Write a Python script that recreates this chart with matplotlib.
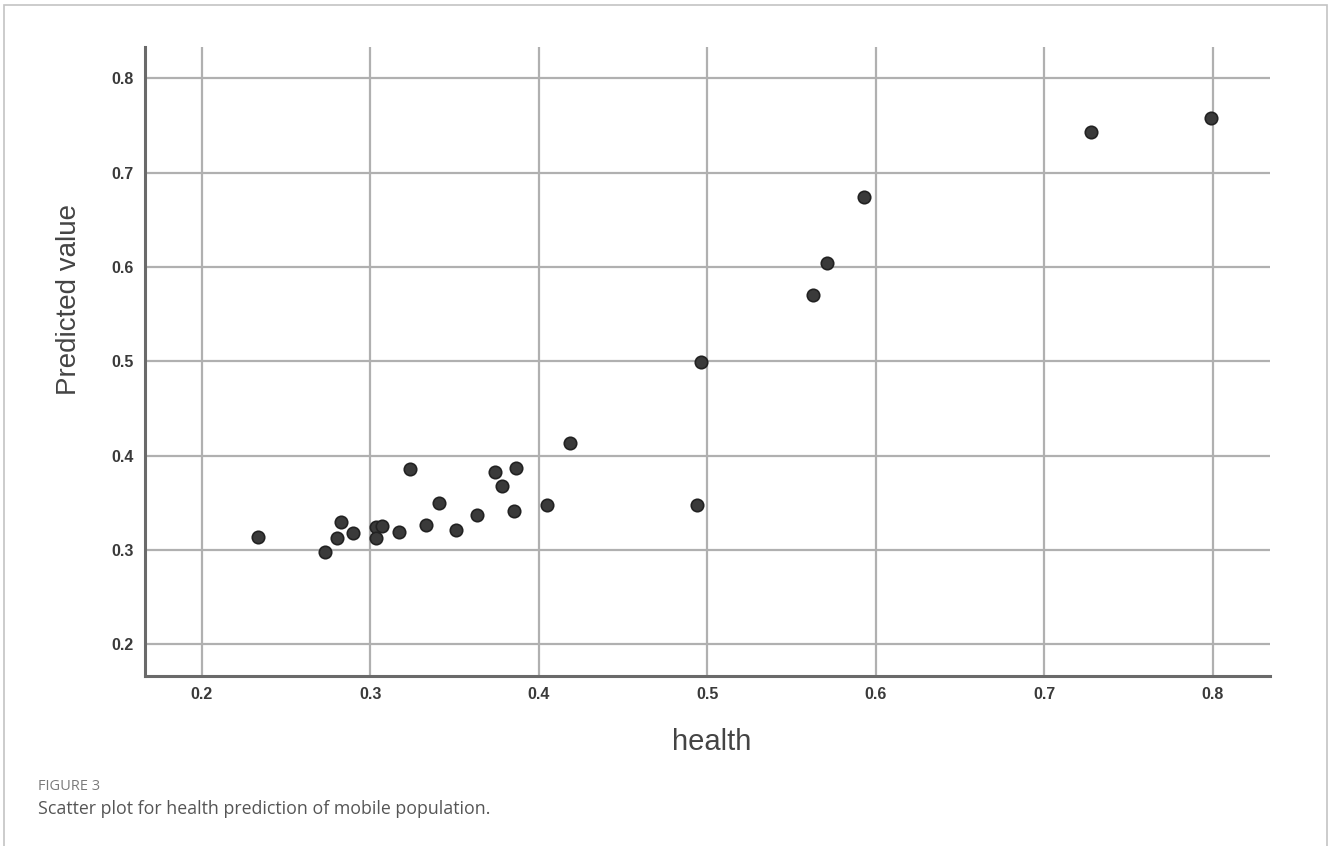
import matplotlib.pyplot as plt
from matplotlib.patches import Rectangle

# Scatter data
health = [0.2336, 0.2732, 0.2825, 0.2805, 0.2900, 0.3034, 0.3072, 0.3033,
          0.3171, 0.3236, 0.3329, 0.3410, 0.3509, 0.3632, 0.3741, 0.3865,
          0.3784, 0.3852, 0.4051, 0.4186, 0.4963, 0.4939, 0.5628, 0.5711,
          0.5930, 0.7278, 0.7990]
predicted = [0.3142, 0.2983, 0.3294, 0.3125, 0.3178, 0.3241, 0.3255, 0.3125,
             0.3191, 0.3856, 0.3266, 0.3496, 0.3209, 0.3368, 0.3827, 0.3873,
             0.3679, 0.3417, 0.3481, 0.4135, 0.4990, 0.3478, 0.5703, 0.6040,
             0.6740, 0.7430, 0.7580]
ticks = [0.2, 0.3, 0.4, 0.5, 0.6, 0.7, 0.8]

plt.rcParams['font.family'] = ['Liberation Sans', 'DejaVu Sans']

fig = plt.figure(figsize=(13.28, 8.46), dpi=100)
ax = fig.add_axes([0.1092, 0.2009, 0.8471, 0.7435])

ax.scatter(health, predicted, s=80, color='#3a3a3a', edgecolors='#222222',
           linewidths=1.2, zorder=3)

ax.set_xlim(0.1664, 0.834)
ax.set_ylim(0.1665, 0.8332)
ax.set_xticks(ticks)
ax.set_yticks(ticks)
ax.set_xticklabels([f'{t:.1f}' for t in ticks])
ax.set_yticklabels([f'{t:.1f}' for t in ticks])
ax.tick_params(length=0, labelsize=11.5, colors='#3a3a3a', pad=8)
for lab in ax.get_xticklabels() + ax.get_yticklabels():
    lab.set_fontweight('bold')

ax.grid(True, color='#b0b0b0', linewidth=1.6, zorder=0)
ax.set_axisbelow(True)
for side in ['top', 'right']:
    ax.spines[side].set_visible(False)
for side in ['left', 'bottom']:
    ax.spines[side].set_color('#6a6a6a')
    ax.spines[side].set_linewidth(2.2)

ax.set_xlabel('health', fontsize=21, color='#444444')
ax.xaxis.set_label_coords(0.504, -0.083)
ax.set_ylabel('Predicted value', fontsize=20, color='#444444')
ax.yaxis.set_label_coords(-0.056, 0.598)

# outer frame and caption
fig.patches.append(Rectangle((0.003, -0.01), 0.996, 1.004, transform=fig.transFigure,
                             fill=False, edgecolor='#c4c4c4', linewidth=1.2))
fig.text(0.0286, 0.0709, 'FIGURE 3', fontsize=10.5, color='#7a7a7a',
         family=['Open Sans', 'DejaVu Sans'], va='center')
fig.text(0.0286, 0.0437, 'Scatter plot for health prediction of mobile population.',
         fontsize=12.8, color='#555555', family=['Open Sans', 'DejaVu Sans'], va='center')

fig.savefig('out.png', dpi=100)
